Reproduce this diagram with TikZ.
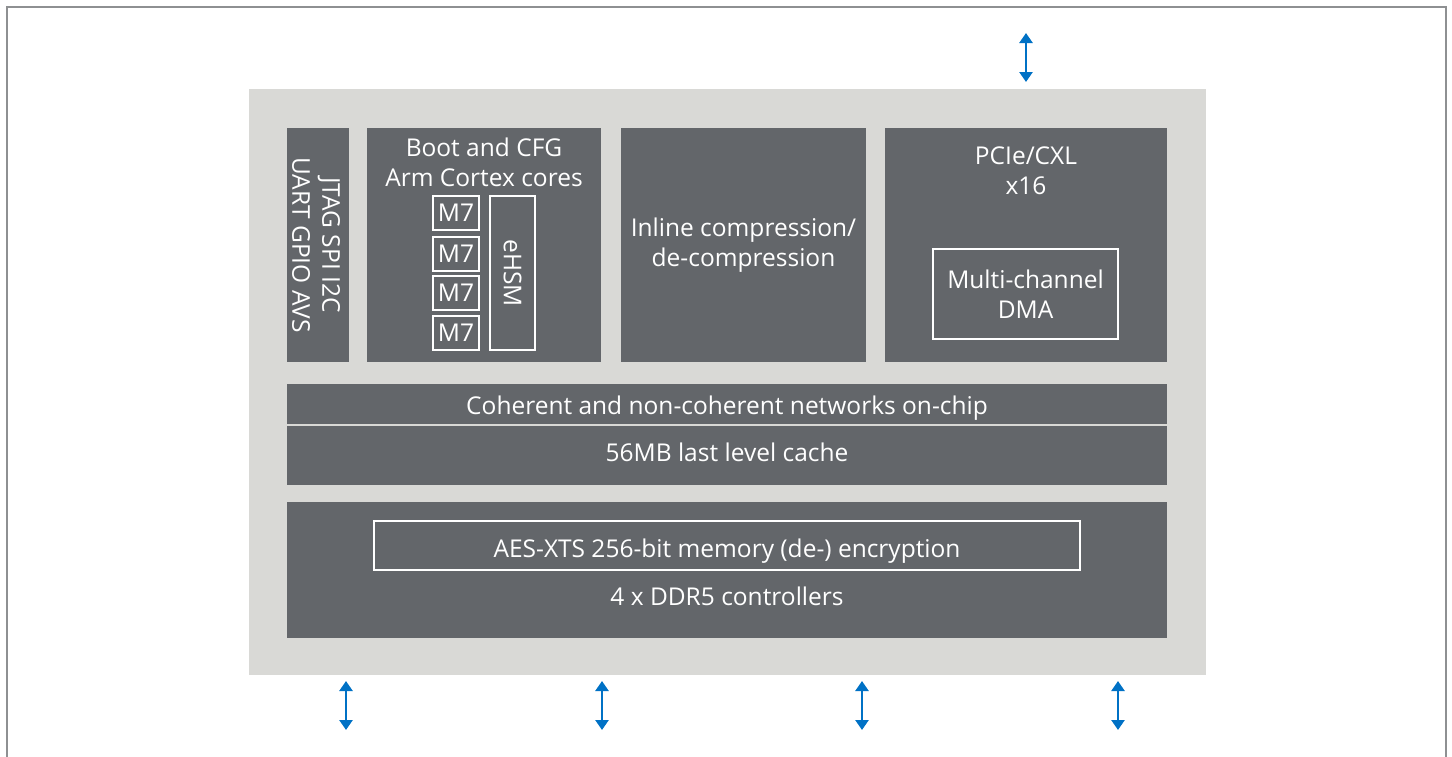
\documentclass[tikz,border=0pt]{standalone}
\usepackage{fontspec}
\setmainfont{Open Sans}
\usetikzlibrary{arrows.meta}
\definecolor{chipgrey}{HTML}{D9D9D6}
\definecolor{blockgrey}{HTML}{63666A}
\definecolor{linkblue}{HTML}{0071C5}
\definecolor{framegrey}{HTML}{8E9092}
\tikzset{
  block/.style={fill=blockgrey, text=white, inner sep=0pt, align=center},
  inbox/.style={draw=white, line width=1.5pt, text=white, inner sep=0pt, align=center},
  tag/.style={text=white, inner sep=0pt, align=center},
  link/.style={draw=linkblue, line width=2.8pt, {Triangle[width=13pt,length=10pt]}-{Triangle[width=13pt,length=10pt]}},
}

\begin{document}
\begin{tikzpicture}[x=1pt, y=-1pt, font=\fontsize{24.5}{30}\selectfont]
    \useasboundingbox (0,0) rectangle (1452,756);
    \draw[framegrey, line width=1.5pt] (7,770) -- (7,7) -- (1446,7) -- (1446,770);

    % the chip
    \node[fill=chipgrey, minimum width=957pt, minimum height=586pt] at (727.5,382) (chip){};

    % top row
    \node[block, minimum width=62pt, minimum height=234pt] at (318,245) (jtag){};
    \node[tag, rotate=-90] at (316,245) (jtagtext){JTAG SPI I2C\\UART GPIO AVS};

    \node[block, minimum width=234pt, minimum height=234pt] at (484,245) (boot){};
    \node[tag] at (484,162) (boottext){Boot and CFG\\Arm Cortex cores};
    \foreach \y [count=\i] in {213,254,293,333}
        \node[inbox, minimum width=46pt, minimum height=34pt] at (456,\y) (m\i){M7};
    \node[inbox, rotate=-90, minimum width=154pt, minimum height=45pt] at (512.5,273) (ehsm){eHSM};

    \node[block, minimum width=245pt, minimum height=234pt] at (743.5,245) (inline){};
    \node[tag] at (743.5,245) (inlinetext){Inline compression/\\de-compression};

    \node[block, minimum width=282pt, minimum height=234pt] at (1026,245) (pcie){};
    \node[tag] at (1026,171) (pcietext){PCIe/CXL\\x16};
    \node[inbox, minimum width=185pt, minimum height=90pt] at (1025.5,294) (dma){Multi-channel\\DMA};

    % fabric and cache
    \node[block, minimum width=880pt, minimum height=40pt] at (727,404) (noc){};
    \node[tag, anchor=base] at (727,414) (noctext){Coherent and non-coherent networks on-chip};
    \node[block, minimum width=880pt, minimum height=59pt] at (727,455.5) (llc){};
    \node[tag, anchor=base] at (727,461) (llctext){56MB last level cache};

    % memory
    \node[block, minimum width=880pt, minimum height=136pt] at (727,570) (ddr){};
    \node[inbox, minimum width=706pt, minimum height=49pt] at (727,545.5) (aes){};
    \node[tag, anchor=base] at (727,557) (aestext){AES-XTS 256-bit memory (de-) encryption};
    \node[tag, anchor=base] at (727,605) (ddrtext){4 x DDR5 controllers};

    % links
    \coordinate (hosta) at (1026,33);
    \coordinate (hostb) at (1026,82);
    \draw[link] (hosta) -- (hostb);
    \foreach \x [count=\i] in {346,602,862,1118} {
        \coordinate (mem\i a) at (\x,681);
        \coordinate (mem\i b) at (\x,730);
        \draw[link] (mem\i a) -- (mem\i b);
    }
\end{tikzpicture}
\end{document}
